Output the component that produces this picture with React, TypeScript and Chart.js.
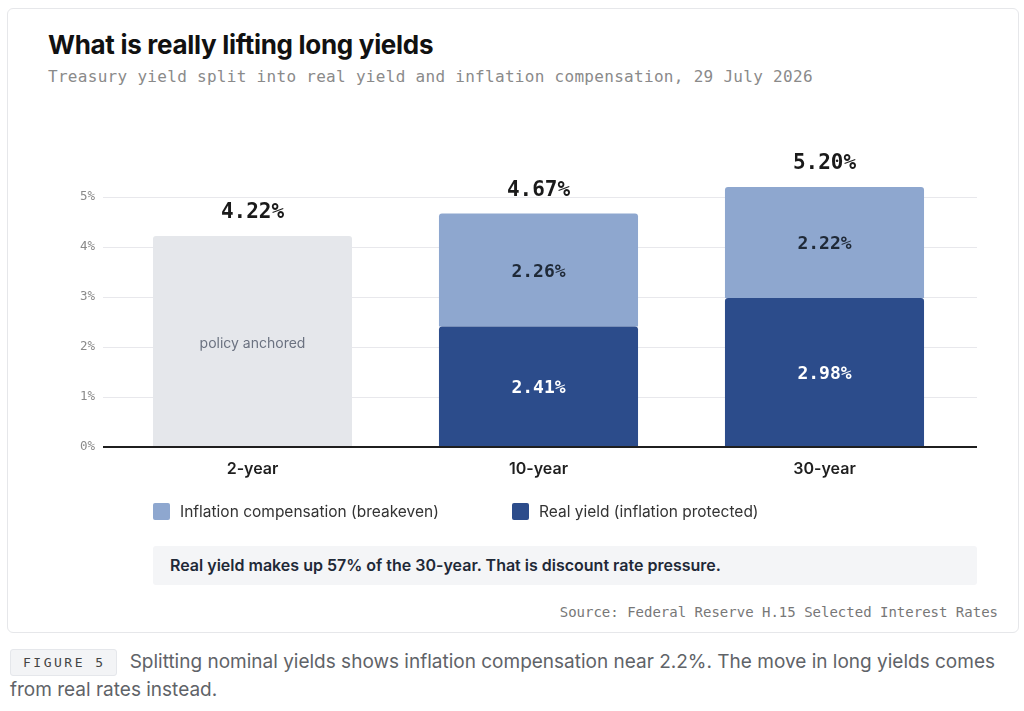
import React, { useEffect, useRef } from 'react';
import { Chart, registerables } from 'chart.js';

Chart.register(...registerables);

const categories = ['2-year', '10-year', '30-year'];
const nominalOnly = [4.22, null, null];
const realYield = [null, 2.41, 2.98];
const inflationComp = [null, 2.26, 2.22];
const totals = [4.22, 4.67, 5.2];
const insideNotes = ['policy anchored', null, null];
const yTicks = [0, 1, 2, 3, 4, 5];

const MONO = '"DejaVu Sans Mono", "Liberation Mono", monospace';
const SANS = 'Inter, "Noto Sans", sans-serif';

const GRAY = '#e5e7eb';
const LIGHT = '#8ea7cf';
const DARK = '#2c4c8b';

const barLabels = {
  id: 'barLabels',
  beforeDatasetsDraw(chart: any) {
    const { ctx, chartArea, scales } = chart;
    ctx.save();
    ctx.strokeStyle = '#e8e8ec';
    ctx.lineWidth = 1;
    yTicks.forEach((v) => {
      if (v === 0) return;
      const y = Math.round(scales.y.getPixelForValue(v)) + 0.5;
      ctx.beginPath();
      ctx.moveTo(chartArea.left - 6.5, y);
      ctx.lineTo(chartArea.right + 9.5, y);
      ctx.stroke();
    });
    ctx.restore();
  },
  afterDatasetsDraw(chart: any) {
    const { ctx, chartArea, scales } = chart;
    ctx.save();
    ctx.textAlign = 'center';
    ctx.textBaseline = 'middle';
    chart.data.datasets.forEach((ds: any, di: number) => {
      const meta = chart.getDatasetMeta(di);
      meta.data.forEach((bar: any, i: number) => {
        const v = ds.data[i];
        if (v == null) return;
        const cy = (bar.y + bar.base) / 2 + 2;
        if (insideNotes[i] && di === 0) {
          ctx.font = `400 14px ${SANS}`;
          ctx.fillStyle = '#6b7280';
          ctx.fillText(insideNotes[i], bar.x, cy);
          return;
        }
        ctx.font = `700 18px ${MONO}`;
        ctx.fillStyle = ds.labelColor;
        ctx.fillText(v.toFixed(2) + '%', bar.x, cy);
      });
    });
    // totals above the stacks
    ctx.font = `700 21px ${MONO}`;
    ctx.fillStyle = '#1a1a1a';
    totals.forEach((t, i) => {
      const x = scales.x.getPixelForValue(i);
      const y = scales.y.getPixelForValue(t);
      ctx.fillText(t.toFixed(2) + '%', x, y - 23);
    });
    // baseline
    const y0 = scales.y.getPixelForValue(0);
    ctx.strokeStyle = '#1f1f1f';
    ctx.lineWidth = 2;
    ctx.beginPath();
    ctx.moveTo(chartArea.left - 6.5, y0);
    ctx.lineTo(chartArea.right + 9.5, y0);
    ctx.stroke();
    ctx.restore();
  },
};

const YieldChart = () => {
  const ref = useRef<HTMLCanvasElement | null>(null);

  useEffect(() => {
    if (!ref.current) return;
    const radius = { topLeft: 3, topRight: 3, bottomLeft: 0, bottomRight: 0 };
    const chart = new Chart(ref.current, {
      type: 'bar',
      data: {
        labels: categories,
        datasets: [
          { label: 'Nominal', data: nominalOnly, backgroundColor: GRAY, borderRadius: radius, borderSkipped: false, labelColor: '#6b7280' } as any,
          { label: 'Real yield (inflation protected)', data: realYield, backgroundColor: DARK, borderRadius: radius, borderSkipped: false, labelColor: '#ffffff' } as any,
          { label: 'Inflation compensation (breakeven)', data: inflationComp, backgroundColor: LIGHT, borderRadius: radius, borderSkipped: false, labelColor: '#1f2937' } as any,
        ],
      },
      options: {
        animation: false,
        responsive: false,
        maintainAspectRatio: false,
        datasets: { bar: { barPercentage: 0.696, categoryPercentage: 1 } },
        layout: { padding: { top: 0, right: 32.5, bottom: 11.8, left: 0 } },
        plugins: { legend: { display: false }, tooltip: { enabled: false } },
        scales: {
          x: {
            stacked: true,
            grid: { display: false, drawTicks: false },
            border: { display: false },
            ticks: { padding: 13, color: '#1f1f1f', font: { family: SANS, size: 16, weight: 600 } },
          },
          y: {
            stacked: true,
            min: 0,
            max: 6,
            grid: { display: false, drawTicks: false },
            border: { display: false },
            afterBuildTicks: (axis: any) => {
              axis.ticks = yTicks.map((v) => ({ value: v }));
            },
            afterFit: (axis: any) => {
              axis.width = 69.5;
            },
            ticks: {
              padding: 14.5,
              color: '#8a8a8a',
              font: { family: MONO, size: 12.5 },
              callback: (v: any) => `${v}%`,
            },
          },
        },
      },
      plugins: [barLabels],
    });
    return () => chart.destroy();
  }, []);

  return (
    <canvas
      ref={ref}
      width={960}
      height={379}
      style={{ position: 'absolute', left: 40, top: 125, width: 960, height: 379 }}
    />
  );
};

const swatch = (color: string) => (
  <span style={{ display: 'inline-block', width: 17, height: 17, borderRadius: 2, background: color, marginRight: 10, verticalAlign: 'middle' }} />
);

export default function App() {
  return (
    <div style={{ position: 'absolute', left: 0, top: 0, width: 1024, height: 711, fontFamily: SANS, overflow: 'hidden' }}>
      <div
        style={{
          position: 'absolute', left: 7, top: 8, width: 1010, height: 623,
          border: '1px solid #e6e7ea', borderRadius: 6, background: '#fff',
        }}
      />
      <div style={{ position: 'absolute', left: 48, top: 28, fontSize: 26, fontWeight: 700, color: '#111', letterSpacing: -0.3, lineHeight: '34px', whiteSpace: 'nowrap' }}>
        What is really lifting long yields
      </div>
      <div style={{ position: 'absolute', left: 48, top: 67, fontFamily: MONO, fontSize: 16, color: '#8a8a8a', letterSpacing: 0.3, lineHeight: '20px', whiteSpace: 'nowrap' }}>
        Treasury yield split into real yield and inflation compensation, 29 July 2026
      </div>
      <YieldChart />
      <div style={{ position: 'absolute', left: 153, top: 500, fontSize: 15.5, color: '#333', lineHeight: '22px', whiteSpace: 'nowrap' }}>
        {swatch(LIGHT)}
        <span style={{ verticalAlign: 'middle' }}>Inflation compensation (breakeven)</span>
      </div>
      <div style={{ position: 'absolute', left: 512, top: 500, fontSize: 15.5, color: '#333', lineHeight: '22px', whiteSpace: 'nowrap' }}>
        {swatch(DARK)}
        <span style={{ verticalAlign: 'middle' }}>Real yield (inflation protected)</span>
      </div>
      <div
        style={{
          position: 'absolute', left: 153, top: 546, width: 824, height: 39, background: '#f4f5f7', borderRadius: 3,
          boxSizing: 'border-box', paddingLeft: 17, fontSize: 16, fontWeight: 600, color: '#1f2937', lineHeight: '39px', whiteSpace: 'nowrap',
        }}
      >
        Real yield makes up 57% of the 30-year. That is discount rate pressure.
      </div>
      <div style={{ position: 'absolute', right: 26, top: 603, fontFamily: MONO, fontSize: 14, color: '#777', lineHeight: '18px', whiteSpace: 'nowrap' }}>
        Source: Federal Reserve H.15 Selected Interest Rates
      </div>
      <div style={{ position: 'absolute', left: 10, top: 648, width: 1000, fontSize: 19, color: '#5f6368', lineHeight: '28px' }}>
        <span
          style={{
            display: 'inline-block', fontFamily: MONO, fontSize: 13, letterSpacing: 2.5, color: '#444', background: '#f3f4f6',
            border: '1px solid #e5e7eb', borderRadius: 3, padding: '0 10px 0 12px', lineHeight: '25px', marginRight: 13, verticalAlign: 'top', marginTop: 1,
          }}
        >
          FIGURE 5
        </span>
        Splitting nominal yields shows inflation compensation near 2.2%. The move in long yields comes from real rates instead.
      </div>
    </div>
  );
}
